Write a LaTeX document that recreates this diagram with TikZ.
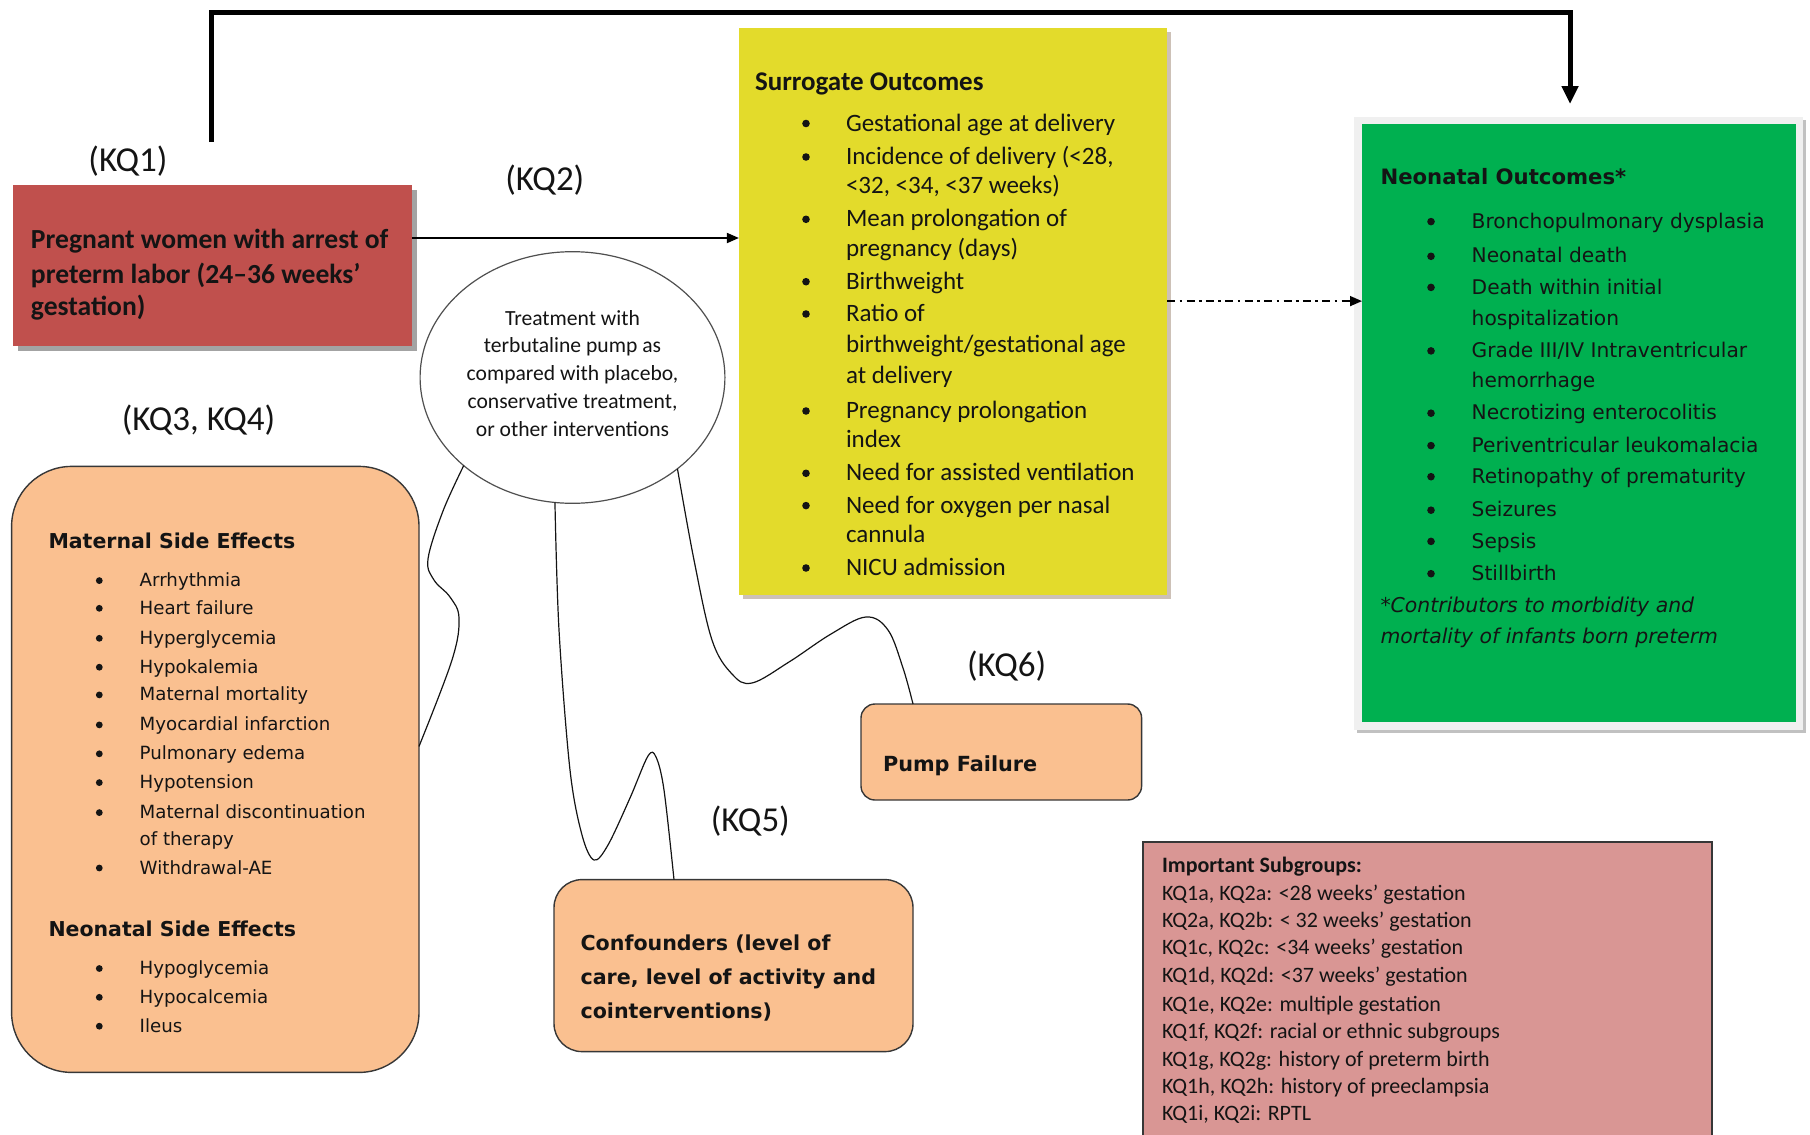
\documentclass[tikz,border=0pt]{standalone}
\usepackage{fontspec}
\setmainfont{Carlito}
\newfontfamily\verd{DejaVu Sans}
\usetikzlibrary{arrows.meta,calc,shadows,shapes.geometric}
\definecolor{popred}{HTML}{C0504D}
\definecolor{surryel}{HTML}{E3DB2B}
\definecolor{neogrn}{HTML}{00B050}
\definecolor{sideorg}{HTML}{FAC090}
\definecolor{subpink}{HTML}{D99694}
\definecolor{ink}{HTML}{141414}
\begin{document}
\begin{tikzpicture}[x=0.5pt,y=-0.5pt,
  every node/.style={inner sep=0pt,outer sep=0pt,text=ink},
  kq/.style={font=\fontsize{17.5}{21}\selectfont},
  ytx/.style={anchor=base west,font=\fontsize{12.5}{15}\selectfont,yshift=-3.8pt},
  yhd/.style={anchor=base west,font=\fontsize{13.5}{16}\selectfont\bfseries,yshift=-4pt},
  gtx/.style={anchor=base west,font=\verd\fontsize{10.1}{12}\selectfont,yshift=-3.3pt},
  ghd/.style={anchor=base west,font=\verd\fontsize{10.6}{13}\selectfont\bfseries,yshift=-3.5pt},
  git/.style={anchor=base west,font=\verd\fontsize{10.2}{12}\selectfont\itshape,yshift=-3.3pt},
  mtx/.style={anchor=base west,font=\verd\fontsize{9.1}{11}\selectfont,yshift=-3pt},
  mhd/.style={anchor=base west,font=\verd\fontsize{10.25}{12}\selectfont\bfseries,yshift=-3.4pt},
  stx/.style={anchor=base west,font=\fontsize{11}{13}\selectfont,yshift=-3.4pt},
  shd/.style={anchor=base west,font=\fontsize{11}{13}\selectfont\bfseries,yshift=-3.4pt},
  etx/.style={anchor=base,font=\fontsize{10.8}{13}\selectfont,yshift=-3.3pt},
  rtx/.style={anchor=base west,font=\fontsize{13.8}{16}\selectfont\bfseries,yshift=-4.2pt},
  ctx/.style={anchor=base west,font=\verd\fontsize{10.3}{12}\selectfont\bfseries,yshift=-3.6pt},
  sidebox/.style={draw=ink!85,line width=0.7pt,fill=sideorg},
  wavy/.style={draw=ink,line width=0.6pt},
  bul/.style={fill=ink}
]
\useasboundingbox (0,0) rectangle (1810,1135);
\clip (0,0) rectangle (1810,1135);

% ---------- boxes ----------
\node[fill=popred,minimum width=199.7pt,minimum height=80.8pt,
  drop shadow={shadow xshift=2.4pt,shadow yshift=-2.4pt,fill=black!45,opacity=0.8}]
  (pop) at (212.4,265.5) {};
\node[fill=surryel,minimum width=214.1pt,minimum height=283.4pt,
  drop shadow={shadow xshift=2pt,shadow yshift=-2pt,fill=brown!35!gray!60,opacity=0.8}]
  (surr) at (953,311.1) {};
\node[fill=gray!12,minimum width=224.5pt,minimum height=306.5pt,
  drop shadow={shadow xshift=1.6pt,shadow yshift=-1.6pt,fill=gray!60,opacity=0.8}]
  (neoframe) at (1578.5,423) {};
\node[fill=neogrn,minimum width=217pt,minimum height=299pt] (neo) at (1579,422.5) {};
\node[sidebox,rounded corners=30pt,minimum width=203.7pt,minimum height=303pt] (mat) at (215.3,769.4) {};
\node[sidebox,rounded corners=7pt,minimum width=140.3pt,minimum height=48pt] (pump) at (1001.3,752) {};
\node[sidebox,rounded corners=14pt,minimum width=179.5pt,minimum height=86pt] (conf) at (733.5,965.6) {};
\node[draw=ink!85,line width=0.9pt,fill=subpink,minimum width=284.6pt,minimum height=149.2pt] (subg) at (1427.4,990.8) {};
\node[ellipse,draw=ink!75,line width=0.6pt,fill=white,minimum width=152.4pt,minimum height=125.8pt] (treat) at (572.5,377.5) {};

% ---------- key question labels ----------
\node[kq] (kq1) at (128,161.6) {(KQ1)};
\node[kq] (kq2) at (544.8,180) {(KQ2)};
\node[kq] (kq34) at (198.5,420) {(KQ3, KQ4)};
\node[kq] (kq5) at (750.3,820.7) {(KQ5)};
\node[kq] (kq6) at (1006.6,666) {(KQ6)};

% ---------- population ----------
\foreach \yy/\lab [count=\k] in {240/{Pregnant women with arrest of},274.7/{preterm labor (24–36 weeks’},307/{gestation)}}
  \node[rtx] (poptx\k) at (31,\yy) {\lab};

% ---------- intervention ----------
\foreach \yy/\lab [count=\k] in {318.6/{Treatment with},346.3/{terbutaline pump as},374/{compared with placebo,},401.7/{conservative treatment,},429.4/{or other interventions}}
  \node[etx] (trtx\k) at (572.5,\yy) {\lab};

% ---------- surrogate outcomes ----------
\node[yhd] (surrhd) at (755,82) {Surrogate Outcomes};
\foreach \yy/\lab [count=\k] in {
  123.5/{Gestational age at delivery},
  157/{Incidence of delivery (<28,},
  186/{<32, <34, <37 weeks)},
  219.3/{Mean prolongation of},
  249.3/{pregnancy (days)},
  281.7/{Birthweight},
  314/{Ratio of},
  345/{birthweight/gestational age},
  376.3/{at delivery},
  411/{Pregnancy prolongation},
  440/{index},
  473.3/{Need for assisted ventilation},
  505.6/{Need for oxygen per nasal},
  534.4/{cannula},
  568/{NICU admission}}
  \node[ytx] (surrtx\k) at (846,\yy) {\lab};
\foreach \yy in {123.5,157,219.3,281.7,314,411,473.3,505.6,568}
  \fill[bul] (806,\yy) circle[radius=1.9pt];

% ---------- neonatal outcomes ----------
\node[ghd] (neohd) at (1380.5,177.8) {Neonatal Outcomes*};
\foreach \yy/\lab [count=\k] in {
  221.6/{Bronchopulmonary dysplasia},
  256.3/{Neonatal death},
  287.4/{Death within initial},
  318.6/{hospitalization},
  350.9/{Grade III/IV Intraventricular},
  381/{hemorrhage},
  413.2/{Necrotizing enterocolitis},
  445.6/{Periventricular leukomalacia},
  476.7/{Retinopathy of prematurity},
  510.2/{Seizures},
  541.4/{Sepsis},
  573.7/{Stillbirth}}
  \node[gtx] (neotx\k) at (1471.7,\yy) {\lab};
\foreach \yy in {221.6,256.3,287.4,350.9,413.2,445.6,476.7,510.2,541.4,573.7}
  \fill[bul] (1431,\yy) circle[radius=1.9pt];
\node[git] (neonote1) at (1380.5,606) {*Contributors to morbidity and};
\node[git] (neonote2) at (1380.5,637.2) {mortality of infants born preterm};

% ---------- side effects ----------
\node[mhd] (mathd) at (48.5,541.4) {Maternal Side Effects};
\foreach \yy/\lab [count=\k] in {
  580.6/{Arrhythmia},
  608.3/{Heart failure},
  638.3/{Hyperglycemia},
  667.2/{Hypokalemia},
  694.9/{Maternal mortality},
  724.9/{Myocardial infarction},
  753.8/{Pulmonary edema},
  782.6/{Hypotension},
  812.6/{Maternal discontinuation},
  839.2/{of therapy},
  868/{Withdrawal-AE}}
  \node[mtx] (mattx\k) at (139.7,\yy) {\lab};
\node[mhd] (nsehd) at (48.5,929.2) {Neonatal Side Effects};
\foreach \yy/\lab [count=\k] in {968.5/{Hypoglycemia},997.3/{Hypocalcemia},1026.2/{Ileus}}
  \node[mtx] (nsetx\k) at (139.7,\yy) {\lab};
\foreach \yy in {580.6,608.3,638.3,667.2,694.9,724.9,753.8,782.6,812.6,868,968.5,997.3,1026.2}
  \fill[bul] (99.3,\yy) circle[radius=1.7pt];

% ---------- pump failure and confounders ----------
\node[ctx,font=\verd\fontsize{10.4}{12}\selectfont\bfseries] (pumptx) at (883,764) {Pump Failure};
\foreach \yy/\lab [count=\k] in {943/{Confounders (level of},977.7/{care, level of activity and},1011.2/{cointerventions)}}
  \node[ctx] (conftx\k) at (580.6,\yy) {\lab};

% ---------- subgroups ----------
\node[shd] (subhd) at (1162,865.7) {Important Subgroups:};
\foreach \yy/\lab [count=\k] in {
  893.4/{KQ1a, KQ2a: <28 weeks’ gestation},
  921.1/{KQ2a, KQ2b: < 32 weeks’ gestation},
  947.7/{KQ1c, KQ2c: <34 weeks’ gestation},
  975.4/{KQ1d, KQ2d: <37 weeks’ gestation},
  1004.2/{KQ1e, KQ2e: multiple gestation},
  1031.9/{KQ1f, KQ2f: racial or ethnic subgroups},
  1059.6/{KQ1g, KQ2g: history of preterm birth},
  1086.2/{KQ1h, KQ2h: history of preeclampsia},
  1113.9/{KQ1i, KQ2i: RPTL}}
  \node[stx] (subtx\k) at (1162,\yy) {\lab};

% ---------- connectors ----------
\coordinate (kq1top) at (211,142);
\coordinate (neoin) at (1570,104);
\draw[line width=2.5pt,line join=miter,-{Triangle[length=9pt,width=8pt]}]
  (kq1top) -- (kq1top |- 0,12) -| (neoin);

\path (pop.east) ++(0,-27.5) coordinate (kq2start);
\draw[line width=0.9pt,-{Triangle[length=6pt,width=5pt]}] (kq2start) -- (kq2start -| surr.west);

\path (surr.east) ++(0,-10) coordinate (ddstart);
\draw[line width=0.8pt,dash pattern=on 4pt off 2.2pt on 1.3pt off 2.2pt,-{Triangle[length=6pt,width=5pt]}]
  (ddstart) -- (ddstart -| neo.west);

\path (mat.north east) ++(0,280) coordinate (c1e);
\path (conf.north west) ++(120,0) coordinate (c2e);
\path (pump.north west) ++(52,0) coordinate (c3e);
\draw[wavy] plot[smooth,tension=0.6] coordinates {(treat.-141) (443,511) (428,559) (434,580) (450,597) (459,618) (452,660) (c1e)};
\draw[wavy] plot[smooth,tension=0.55] coordinates {(treat.-98) (559,630) (570,770) (582,835) (594,860) (608,845) (630,798) (648,756) (656,757) (664,790) (c2e)};
\draw[wavy] plot[smooth,tension=0.6] coordinates {(treat.-41) (694,560) (712,640) (732,674) (752,683) (789,662) (831,634) (866,617) (888,630) (903,668) (c3e)};
\end{tikzpicture}
\end{document}
